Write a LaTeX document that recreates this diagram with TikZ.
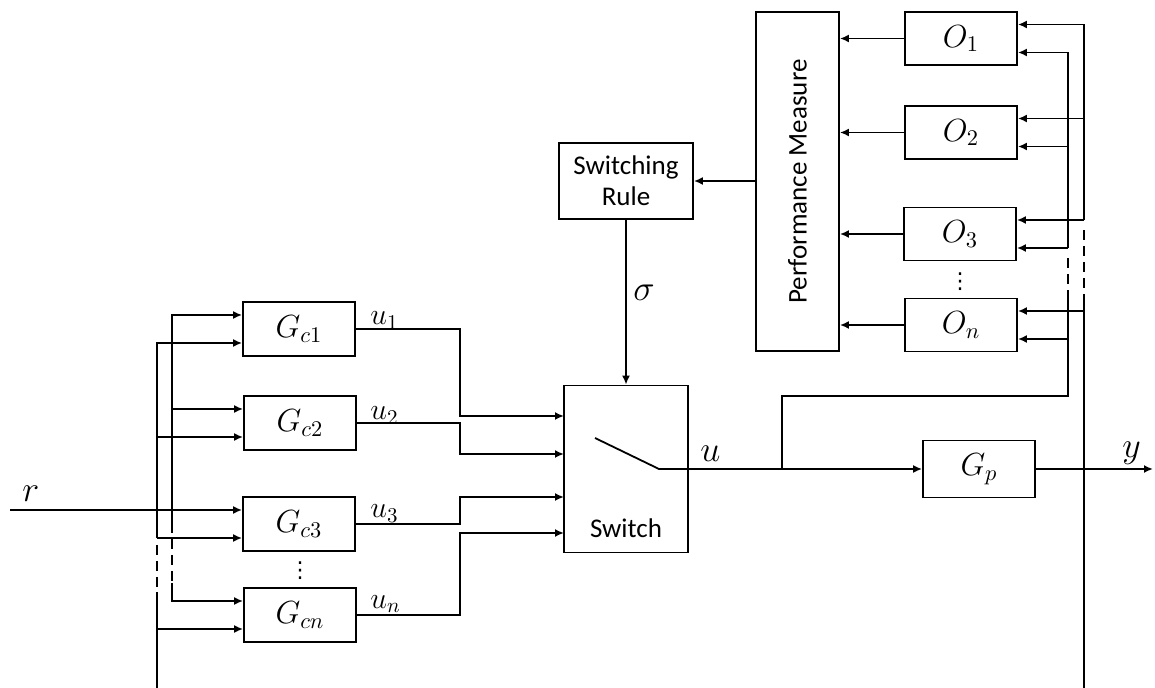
\RequirePackage{fix-cm}
\documentclass[tikz,border=0pt]{standalone}
\usepackage{fontspec}
\newfontfamily\calibrifont{Carlito}
\newfontfamily\symfont{DejaVu Sans}
\usetikzlibrary{arrows.meta, positioning}

\begin{document}
\begin{tikzpicture}[
  x=0.5pt, y=-0.5pt,
  blk/.style={rectangle, draw, line width=0.9pt, inner sep=0pt,
              minimum width=56pt, minimum height=27pt,
              font=\fontsize{16}{18}\selectfont},
  txtblk/.style={rectangle, draw, line width=0.9pt, inner sep=0pt,
                 font=\calibrifont\fontsize{13.5}{15.5}\selectfont, align=center},
  swtext/.style={inner sep=0pt, font=\calibrifont\fontsize{13.5}{15.5}\selectfont},
  dots/.style={inner sep=0pt, font=\symfont\fontsize{11}{12}\selectfont},
  sig/.style={inner sep=0pt, anchor=base west, font=\fontsize{18}{20}\selectfont},
  sub/.style={inner sep=0pt, anchor=base west, font=\fontsize{15}{17}\selectfont},
  arr/.style={-{Latex[length=4.5pt,width=4pt]}, line width=0.9pt},
  ln/.style={line width=0.9pt},
  dln/.style={line width=0.9pt, dash pattern=on 5pt off 3pt},
]
\useasboundingbox (0,0) rectangle (1155,688);

%% CONTROLLERS
\node[blk] (gc1) at (299,329) {$G_{c1}$};
\node[blk] (gc2) at (300,423) {$G_{c2}$};
\node[blk] (gc3) at (299,524) {$G_{c3}$};
\node[blk] (gcn) at (300,615) {$G_{cn}$};
\node[dots] (gcdots) at (300,571) {⋮};

%% SWITCH
\node[blk, minimum width=62pt, minimum height=83.5pt] (sw) at (626,469) {};
\node[swtext, anchor=base] (swlbl) at (626,538) {Switch};
\coordinate (lever) at (595,438);
\coordinate (pivot) at (659,469);
\draw[ln] (lever) -- (pivot) -- (sw.east);

%% SUPERVISOR
\node[txtblk, minimum width=67pt, minimum height=38pt] (rule) at (626,181) {Switching\\Rule};
\node[txtblk, minimum width=41.5pt, minimum height=169.5pt] (pm) at (797.5,181.5) {};
\node[swtext, rotate=90] (pmlbl) at (pm.center) {Performance Measure};

%% OBSERVERS
\node[blk, minimum height=26.5pt] (o1) at (961,38.5) {$O_1$};
\node[blk, minimum height=26.5pt] (o2) at (961,132.5) {$O_2$};
\node[blk, minimum height=26.5pt] (o3) at (960,234) {$O_3$};
\node[blk, minimum height=26.5pt] (on) at (961,325) {$O_n$};
\node[dots] (odots) at (960,282) {⋮};

%% PLANT
\node[blk, minimum height=28.5pt] (gp) at (979,469) {$G_p$};

%% Signal labels
\node[sig] (lr)   at (22,502)   {$r$};
\node[sub] (lu1)  at (370,325)  {$u_1$};
\node[sub] (lu2)  at (370,420)  {$u_2$};
\node[sub] (lu3)  at (370,518)  {$u_3$};
\node[sub] (lun)  at (370,608)  {$u_n$};
\node[sig] (lsig) at (633,301)  {$\sigma$};
\node[sig] (lu)   at (700,462)  {$u$};
\node[sig] (ly)   at (1122,458) {$y$};

%% Supervisor arrows
\draw[arr] (pm.west |- rule.east) -- (rule.east);
\draw[arr] (rule.south) -- (sw.north);
\foreach \o in {o1,o2,o3,on}
  \draw[arr] (\o.west) -- (\o.west -| pm.east);

%% Controller outputs into switch
\coordinate (mid) at (460,0);
\coordinate (si1) at (564,416);
\coordinate (si2) at (564,454);
\coordinate (si3) at (564,497);
\coordinate (si4) at (564,533);
\draw[arr] (gc1.east) -| (mid |- si1) -- (si1);
\draw[arr] (gc2.east) -| (mid |- si2) -- (si2);
\draw[arr] (gc3.east) -| (mid |- si3) -- (si3);
\draw[arr] (gcn.east) -| (mid |- si4) -- (si4);

%% Plant and output
\coordinate (brk) at (782,469);
\coordinate (yend) at (1153,469);
\draw[arr] (sw.east) -- (gp.west);
\draw[arr] (gp.east) -- (yend);

%% Input points
\foreach \g in {gc1,gc2,gc3,gcn} {
  \coordinate (\g-a) at ([yshift=7pt]\g.west);
  \coordinate (\g-b) at ([yshift=-7pt]\g.west);
}
\foreach \o in {o1,o2,o3,on} {
  \coordinate (\o-a) at ([yshift=7pt]\o.east);
  \coordinate (\o-b) at ([yshift=-7pt]\o.east);
}

%% Left buses
\coordinate (rbus) at (172,0);
\coordinate (ybus) at (157,0);
\coordinate (rin) at (10,510);
\coordinate (r1) at (172,523);
\coordinate (r2) at (172,583);
\coordinate (y1) at (157,545);
\coordinate (y2) at (157,592);
\coordinate (ybot) at (157,688);
\draw[arr] (rin) -- (gc3-a);
\draw[arr] (r1) |- (gc1-a);
\draw[arr] (rbus |- gc2-a) -- (gc2-a);
\draw[dln] (r1) -- (r2);
\draw[arr] (r2) |- (gcn-a);
\draw[arr] (ybus |- gc3-b) |- (gc1-b);
\draw[arr] (ybus |- gc2-b) -- (gc2-b);
\draw[arr] (ybus |- gc3-b) -- (gc3-b);
\draw[dln] (y1) -- (y2);
\draw[ln] (ybot) -- (y2);
\draw[arr] (ybus |- gcn-b) -- (gcn-b);

%% Right buses
\coordinate (obus) at (1084,0);
\coordinate (ibus) at (1068,0);
\coordinate (od1) at (1084,230);
\coordinate (od2) at (1084,295);
\coordinate (obot) at (1084,688);
\coordinate (id1) at (1068,258);
\coordinate (id2) at (1068,300);
\coordinate (itap) at (1068,396);
\draw[arr] (obus |- o3-a) |- (o1-a);
\draw[arr] (obus |- o2-a) -- (o2-a);
\draw[arr] (obus |- o3-a) -- (o3-a);
\draw[dln] (od1) -- (od2);
\draw[ln] (obot) -- (od2);
\draw[arr] (obus |- on-a) -- (on-a);
\draw[arr] (ibus |- o3-b) |- (o1-b);
\draw[arr] (ibus |- o2-b) -- (o2-b);
\draw[arr] (ibus |- o3-b) -- (o3-b);
\draw[dln] (id1) -- (id2);
\draw[ln] (brk) |- (itap) -- (id2);
\draw[arr] (ibus |- on-b) -- (on-b);

\end{tikzpicture}
\end{document}
